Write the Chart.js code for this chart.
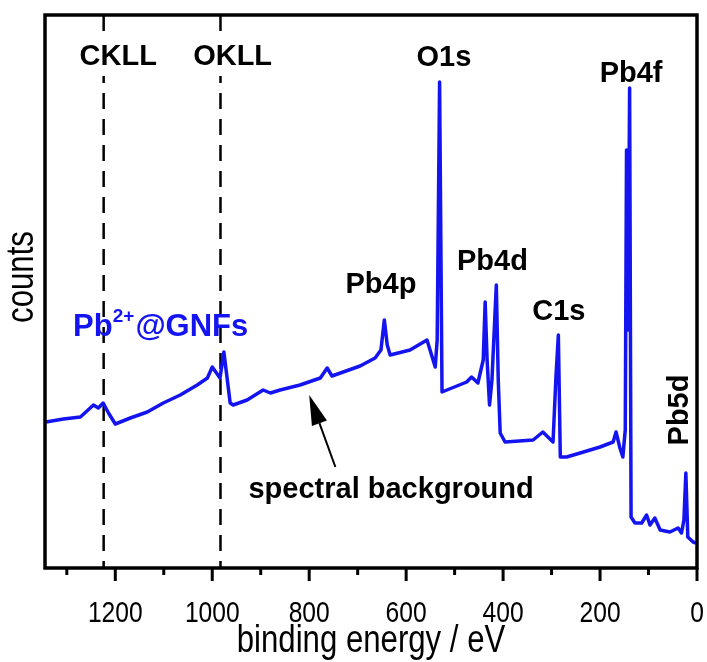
<!DOCTYPE html>
<html>
<head>
<meta charset="utf-8">
<script src="https://cdn.jsdelivr.net/npm/chart.js@4.4.0/dist/chart.umd.min.js"></script>
<style>
  html, body { margin: 0; padding: 0; background: #fff; }
  canvas { display: block; }
</style>
</head>
<body>
<canvas id="xps" width="707" height="662"></canvas>
<script>
// ===== データ =====
const energies = [
  1343, 1307, 1272, 1245, 1235, 1225, 1214, 1200, 1169, 1134, 1101, 1066, 1031, 1010, 1000,
  984, 976, 963, 957, 928, 895, 880, 860, 819, 777, 763, 753, 695, 664, 652, 645, 639, 633,
  592, 557, 540, 536, 531, 526, 475, 465, 452, 441, 437, 433, 428, 423, 414, 410, 406, 396,
  338, 318, 297, 291, 286, 282, 269, 241, 200, 173, 167, 159, 153, 148, 145.4, 142.3, 139,
  136, 128, 114, 104, 97, 87, 76, 56, 39, 32, 27, 23, 19, 8, 2,
];
const counts = [
  146, 149, 151, 163, 160, 165, 155, 144, 150, 156, 165, 173, 183, 190, 201,
  190, 216, 165, 163, 168, 178, 175, 178, 183, 190, 200, 192, 202, 210, 218, 248, 223, 213,
  218, 228, 201, 228, 486, 176, 186, 191, 185, 208, 266, 208, 163, 188, 283, 188, 135, 126,
  128, 136, 126, 191, 233, 111, 111, 115, 121, 126, 136, 120, 111, 138, 418, 238, 480,
  51, 45, 45, 53, 43, 50, 38, 36, 40, 35, 48, 95, 31, 26, 25,
];

// オージェ線（破線）
const augerNames = ['CKLL', 'OKLL'];
const augerEnergies = [1224, 983];

// 軸
const xMin = 0, xMax = 1345;
const yMin = 0, yMax = 553;
const xStep = 100;
const xLabelStep = 200;

// ===== 注釈（データ座標で配置） =====
const FONT = '"Liberation Sans", Arial, sans-serif';
const NARROW = 0.82; // Arial Narrow 風の横幅
const peakLabels = [
  { text: 'CKLL', x: 1194, y: 503, box: true },
  { text: 'OKLL', x: 958,  y: 503, box: true },
  { text: 'O1s',  x: 522,  y: 502 },
  { text: 'Pb4f', x: 136,  y: 486 },
  { text: 'Pb4p', x: 652,  y: 275 },
  { text: 'Pb4d', x: 422,  y: 298 },
  { text: 'C1s',  x: 285,  y: 248 },
  { text: 'spectral background', x: 631, y: 70 },
];

function narrowText(ctx, text, px, py, rot) {
  ctx.save();
  ctx.translate(px, py);
  if (rot) ctx.rotate(rot);
  ctx.scale(NARROW, 1);
  ctx.fillText(text, 0, 0);
  ctx.restore();
}

const annotations = {
  id: 'annotations',
  afterDatasetsDraw(chart) {
    const { ctx, chartArea: a, scales: { x, y } } = chart;
    ctx.save();

    // ピーク名
    ctx.font = `bold 29px ${FONT}`;
    ctx.textAlign = 'center';
    ctx.textBaseline = 'alphabetic';
    peakLabels.forEach(l => {
      const px = x.getPixelForValue(l.x), py = y.getPixelForValue(l.y);
      if (l.box) {
        const w = ctx.measureText(l.text).width;
        ctx.fillStyle = '#fff';
        ctx.fillRect(px - w / 2 - 2, py - 30, w + 4, 41);
      }
      ctx.fillStyle = '#000';
      ctx.fillText(l.text, px, py);
    });

    // Pb5d（縦書き）
    ctx.save();
    ctx.translate(x.getPixelForValue(19), y.getPixelForValue(158));
    ctx.rotate(-Math.PI / 2);
    ctx.fillText('Pb5d', 0, 0);
    ctx.restore();

    // Pb2+@GNFs
    ctx.fillStyle = 'rgb(20,20,240)';
    ctx.textAlign = 'left';
    let sx = x.getPixelForValue(1287);
    const sy = y.getPixelForValue(232);
    ctx.font = `bold 31px ${FONT}`;
    ctx.fillText('Pb', sx, sy);
    sx += ctx.measureText('Pb').width;
    ctx.font = `bold 19px ${FONT}`;
    ctx.fillText('2+', sx, sy - 14);
    sx += ctx.measureText('2+').width + 1;
    ctx.font = `bold 31px ${FONT}`;
    ctx.fillText('@GNFs', sx, sy);

    // 矢印
    const tx = x.getPixelForValue(800), ty = y.getPixelForValue(173);
    const bx = x.getPixelForValue(746), by = y.getPixelForValue(101);
    const ang = Math.atan2(ty - by, tx - bx);
    const hl = 30, hw = 8;
    ctx.strokeStyle = '#000';
    ctx.fillStyle = '#000';
    ctx.lineWidth = 2;
    ctx.beginPath();
    ctx.moveTo(bx, by);
    ctx.lineTo(tx - hl * Math.cos(ang), ty - hl * Math.sin(ang));
    ctx.stroke();
    ctx.beginPath();
    ctx.moveTo(tx, ty);
    ctx.lineTo(tx - hl * Math.cos(ang) + hw * Math.sin(ang), ty - hl * Math.sin(ang) - hw * Math.cos(ang));
    ctx.lineTo(tx - hl * Math.cos(ang) - hw * Math.sin(ang), ty - hl * Math.sin(ang) + hw * Math.cos(ang));
    ctx.closePath();
    ctx.fill();

    // 枠
    ctx.lineWidth = 3.5;
    ctx.strokeRect(a.left, a.top, a.right - a.left, a.bottom - a.top);

    // 目盛りとラベル（主 200 / 副 100）
    ctx.lineWidth = 3;
    ctx.font = `30px ${FONT}`;
    ctx.textAlign = 'center';
    ctx.textBaseline = 'alphabetic';
    x.ticks.forEach(t => {
      const px = x.getPixelForValue(t.value);
      const major = t.value % xLabelStep === 0;
      ctx.beginPath();
      ctx.moveTo(px, a.bottom);
      ctx.lineTo(px, a.bottom + (major ? 13 : 7));
      ctx.stroke();
      if (major) narrowText(ctx, String(t.value), px, a.bottom + 54);
    });

    // 軸タイトル
    ctx.font = `38px ${FONT}`;
    narrowText(ctx, 'binding energy / eV', (a.left + a.right) / 2, a.bottom + 84);
    ctx.textBaseline = 'middle';
    narrowText(ctx, 'counts', 23, 277, -Math.PI / 2);
    ctx.restore();
  },
};

// ===== 描画 =====
const spectrum = energies.map((e, i) => ({ x: e, y: counts[i] }));
const augerSets = augerEnergies.map((e, i) => ({
  label: augerNames[i],
  data: [{ x: e, y: yMax }, { x: e, y: yMin }],
  borderColor: '#000',
  borderWidth: 2.5,
  borderDash: [16, 10],
  pointRadius: 0,
  order: 2,
}));

new Chart(document.getElementById('xps').getContext('2d'), {
  type: 'line',
  data: {
    datasets: [
      {
        label: 'Pb2+@GNFs',
        data: spectrum,
        borderColor: 'rgb(20,20,240)',
        borderWidth: 3.5,
        borderJoinStyle: 'round',
        pointRadius: 0,
        tension: 0,
        order: 1,
      },
      ...augerSets,
    ],
  },
  options: {
    responsive: false,
    animation: false,
    layout: { padding: { left: 0, top: 15, right: 10, bottom: 0 } },
    plugins: { legend: { display: false }, tooltip: { enabled: false } },
    scales: {
      x: {
        type: 'linear',
        reverse: true,
        min: xMin,
        max: xMax,
        grid: { display: false },
        border: { display: false },
        ticks: { display: false, stepSize: xStep, includeBounds: false, autoSkip: false },
        afterFit: s => { s.height = 94; s.paddingLeft = 0; s.paddingRight = 0; },
      },
      y: {
        min: yMin,
        max: yMax,
        grid: { display: false },
        border: { display: false },
        ticks: { display: false },
        afterFit: s => { s.width = 45; s.paddingTop = 0; s.paddingBottom = 0; },
      },
    },
  },
  plugins: [annotations],
});
</script>
</body>
</html>
